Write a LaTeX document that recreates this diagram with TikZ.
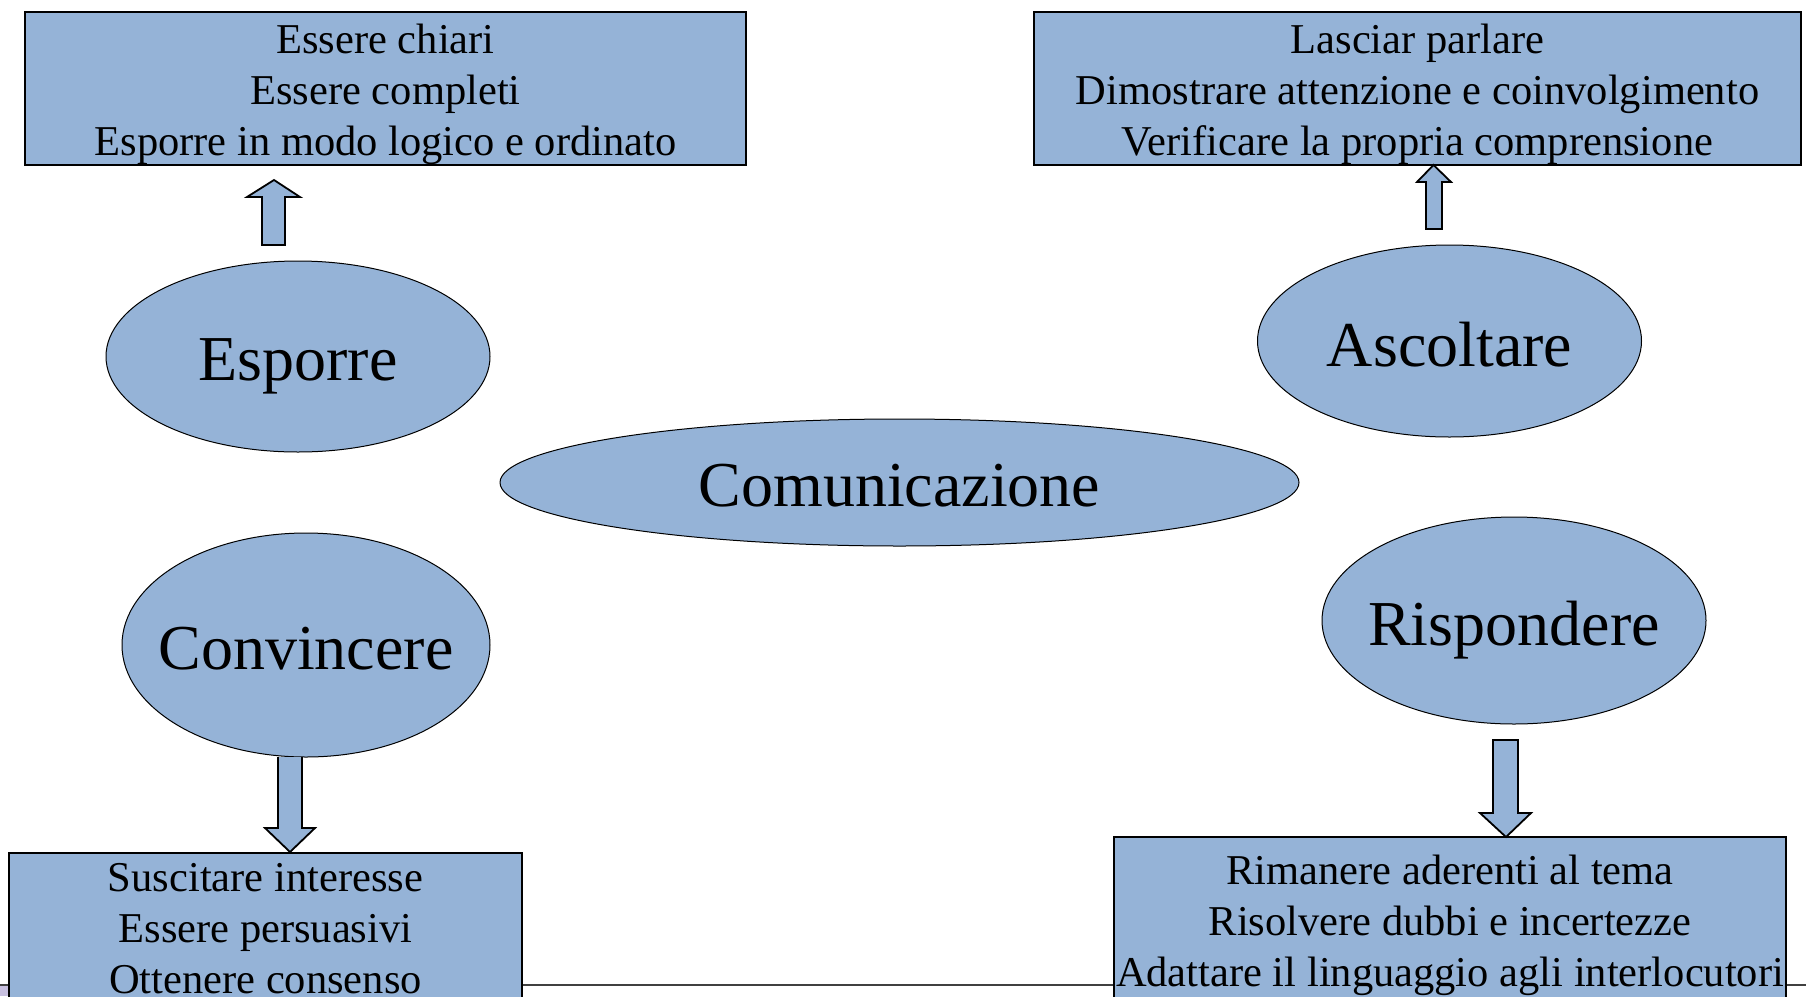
\documentclass[tikz,border=0pt]{standalone}
\usepackage{fontspec}
\setmainfont{Liberation Serif}
\usetikzlibrary{shapes.geometric}
\definecolor{boxblue}{RGB}{149,179,215}
\definecolor{lav}{RGB}{200,192,224}
\begin{document}
\begin{tikzpicture}[x=1pt,y=-1pt,
  infobox/.style={draw=black,line width=1.3pt,fill=boxblue,rectangle,inner sep=0pt},
  boxtext/.style={inner sep=0pt,align=center,font=\fontsize{42.5}{51}\selectfont},
  topic/.style={draw=black,line width=1pt,fill=boxblue,ellipse,inner sep=0pt},
  topictext/.style={inner sep=0pt,text depth=0pt,font=\fontsize{64}{70}\selectfont},
  blockarrow/.style={draw=black,line width=1.8pt,fill=boxblue,line join=miter}]
\useasboundingbox (0,0) rectangle (1806,996);
% bottom strip
\fill[lav] (0,985) rectangle (9,996);
\draw[line width=1.8pt,draw=black!75] (0,985) -- (1806,985);
% boxes
\node[infobox,minimum width=721pt,minimum height=153pt,label={[boxtext,yshift=-6pt]center:Essere chiari\\Essere completi\\Esporre in modo logico e ordinato}] (b1) at (385.5,88.5) {};
\node[infobox,minimum width=767pt,minimum height=153pt,label={[boxtext,yshift=-6pt]center:Lasciar parlare\\Dimostrare attenzione e coinvolgimento\\Verificare la propria comprensione}] (b2) at (1417.5,88.5) {};
\node[infobox,minimum width=513pt,minimum height=148pt,label={[boxtext,yshift=-2pt]center:Suscitare interesse\\Essere persuasivi\\Ottenere consenso}] (b3) at (265.5,927) {};
\node[infobox,minimum width=672pt,minimum height=164pt,label={[boxtext,yshift=-6pt]center:Rimanere aderenti al tema\\Risolvere dubbi e incertezze\\Adattare il linguaggio agli interlocutori}] (b4) at (1450,919) {};
% ellipses
\node[topic,minimum width=384pt,minimum height=191pt,label={[topictext,yshift=-3pt]center:Esporre}] (esp) at (298,356.5) {};
\node[topic,minimum width=384pt,minimum height=192pt,label={[topictext,yshift=-3pt]center:Ascoltare}] (asc) at (1449.5,341) {};
\node[topic,minimum width=799pt,minimum height=127pt,label={[topictext,yshift=-3pt]center:Comunicazione}] (com) at (899.5,482.5) {};
\node[topic,minimum width=368pt,minimum height=224pt,label={[topictext,yshift=-3pt]center:Convincere}] (con) at (306,645) {};
\node[topic,minimum width=384pt,minimum height=207pt,label={[topictext,yshift=-3pt]center:Rispondere}] (ris) at (1514,620.5) {};
% block arrows
\draw[blockarrow] (262,245) -- (262,197) -- (247,197) -- (274,180) -- (300,197) -- (285,197) -- (285,245) -- cycle;
\draw[blockarrow] (1426,229) -- (1426,182) -- (1417,182) -- (1433.5,165) -- (1451,182) -- (1442,182) -- (1442,229) -- cycle;
\draw[blockarrow] (278,757) -- (278,828) -- (265,828) -- (290,852) -- (315,828) -- (302,828) -- (302,757);
\draw[blockarrow] (1493,740) -- (1493,813) -- (1480,813) -- (1506,837) -- (1531,813) -- (1518,813) -- (1518,740) -- cycle;
\end{tikzpicture}
\end{document}
